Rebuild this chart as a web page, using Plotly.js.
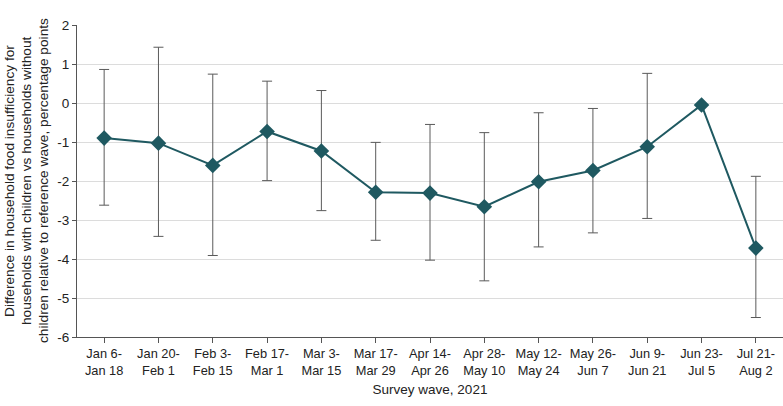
<!DOCTYPE html>
<html>
<head>
<meta charset="utf-8">
<script src="https://cdn.plot.ly/plotly-3.0.1.min.js"></script>
<style>html,body{margin:0;padding:0;background:#fff;}#chart{width:783px;height:406px;}</style>
</head>
<body>
<div id="chart"></div>
<script>
const waves = ["Jan 6-<br>Jan 18","Jan 20-<br>Feb 1","Feb 3-<br>Feb 15","Feb 17-<br>Mar 1","Mar 3-<br>Mar 15","Mar 17-<br>Mar 29","Apr 14-<br>Apr 26","Apr 28-<br>May 10","May 12-<br>May 24","May 26-<br>Jun 7","Jun 9-<br>Jun 21","Jun 23-<br>Jul 5","Jul 21-<br>Aug 2"];
const estimate = [-0.90,-1.03,-1.60,-0.73,-1.23,-2.29,-2.31,-2.66,-2.02,-1.73,-1.12,-0.05,-3.72];
const ciUpper = [0.86,1.43,0.74,0.56,0.32,-1.01,-0.55,-0.76,-0.25,-0.14,0.76,null,-1.88];
const ciLower = [-2.62,-3.42,-3.91,-1.99,-2.76,-3.52,-4.03,-4.56,-3.69,-3.33,-2.96,null,-5.50];
const yTicks = [-6,-5,-4,-3,-2,-1,0,1,2];
const yTickText = ['-6','-5','-4','-3','-2','-1','0','1','2'];
const yTitleLines = ['Difference in household food insufficiency for','households with children vs households without','children relative to reference wave, percentage points'];

const errPlus = estimate.map((v,i)=> ciUpper[i]===null ? 0 : ciUpper[i]-v);
const errMinus = estimate.map((v,i)=> ciLower[i]===null ? 0 : v-ciLower[i]);

const FONT = "'Liberation Sans', Arial, sans-serif";

const trace = {
  x: waves,
  y: estimate,
  type: 'scatter',
  mode: 'lines+markers',
  line: {color: '#1f5961', width: 2},
  marker: {symbol: 'diamond', size: 12, color: '#1f5961'},
  error_y: {
    type: 'data', symmetric: false,
    array: errPlus, arrayminus: errMinus,
    color: '#5a5a5a', thickness: 1, width: 5
  },
  hoverinfo: 'skip'
};

const titleShifts = [-68, -51, -34];
const annotations = yTitleLines.map((t, i) => ({
  text: t, xref: 'paper', yref: 'paper', x: 0, y: 0.5,
  xanchor: 'center', yanchor: 'middle', textangle: -90,
  xshift: titleShifts[i], showarrow: false,
  font: {family: FONT, size: 13.7, color: '#222'}
}));

const layout = {
  width: 783, height: 406,
  margin: {l: 77, r: 0, t: 25, b: 69},
  paper_bgcolor: '#fff', plot_bgcolor: '#fff',
  showlegend: false,
  font: {family: FONT, size: 13, color: '#222'},
  annotations: annotations,
  xaxis: {
    type: 'category',
    range: [-0.5, 12.5],
    showgrid: false,
    showline: true, linecolor: '#555', linewidth: 1,
    ticks: 'outside', ticklen: 5, tickcolor: '#555',
    tickfont: {family: FONT, size: 12.8, color: '#222'},
    title: {text: 'Survey wave, 2021', font: {family: FONT, size: 13.5, color: '#222'}, standoff: 7},
    zeroline: false, fixedrange: true
  },
  yaxis: {
    range: [-6, 2],
    tickvals: yTicks,
    ticktext: yTickText,
    showgrid: true, gridcolor: '#dcdcdc', gridwidth: 1,
    showline: true, linecolor: '#555', linewidth: 1,
    ticks: 'outside', ticklen: 4, tickcolor: '#555',
    tickfont: {family: FONT, size: 13.5, color: '#222'},
    zeroline: false,
    fixedrange: true
  }
};

Plotly.newPlot('chart', [trace], layout, {displayModeBar: false, staticPlot: true});
</script>
</body>
</html>
